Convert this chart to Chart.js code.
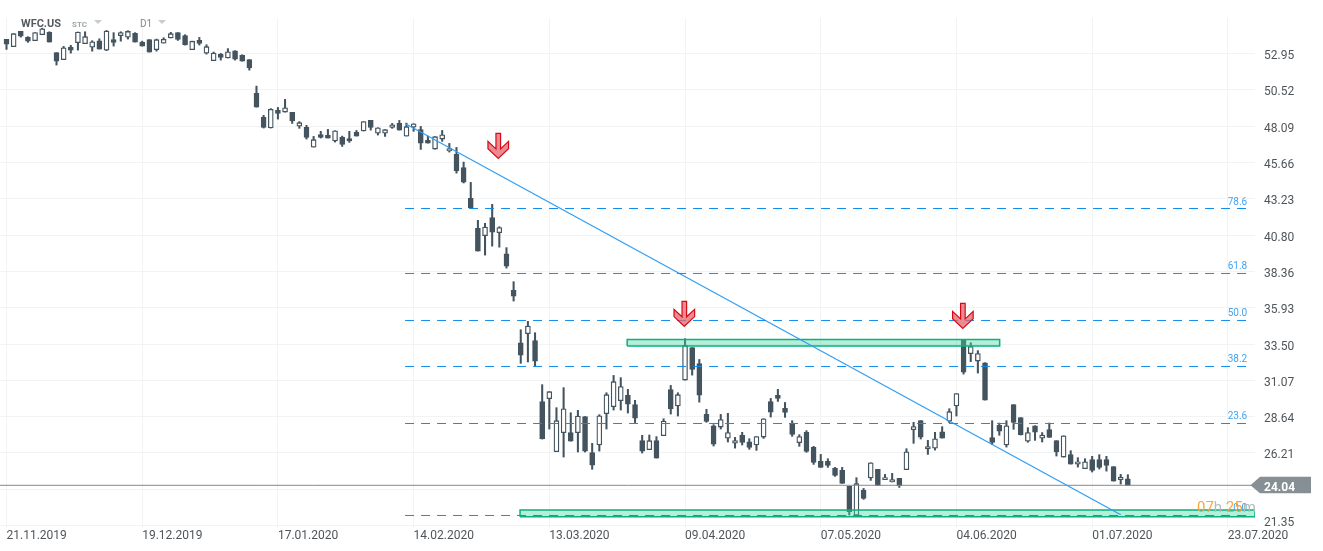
<!DOCTYPE html>
<html>
<head>
<meta charset="utf-8">
<title>WFC.US</title>
<script src="https://cdn.jsdelivr.net/npm/chart.js@4"></script>
<style>
    html, body { margin: 0; padding: 0; background: #fff; }
    canvas { display: block; }
</style>
</head>
<body>
<canvas id="priceChart" width="1323" height="551"></canvas>
<script>
// Daily candles, one entry per session
const opens = [
    53.91,53.42,54.44,54.04,53.82,54.22,54.38,53.02,52.55,53.37,
    53.69,53.62,53.39,53.82,53.19,53.89,54.16,54.06,54.31,53.71,
    53.89,53.22,53.66,54.00,54.36,54.16,53.22,53.84,52.99,52.48,
    52.90,52.66,53.15,52.84,52.55,50.29,48.68,47.97,49.15,49.04,
    49.02,48.10,48.01,46.69,47.54,47.48,47.10,47.34,47.26,47.68,
    47.77,48.48,47.63,47.63,48.01,48.28,47.43,48.03,47.86,47.14,
    46.56,47.23,46.43,46.21,45.33,43.26,41.25,40.76,41.97,40.96,
    39.55,37.10,33.59,34.20,33.73,29.64,29.84,26.29,27.57,27.57,
    27.57,28.64,26.23,26.74,28.84,29.31,29.71,30.06,29.44,27.03,
    26.43,27.03,27.36,30.45,29.35,31.09,33.26,32.19,28.79,28.03,
    27.94,27.20,26.87,27.39,26.96,26.74,27.27,29.64,30.06,29.19,
    28.21,26.90,27.59,26.58,25.64,25.64,25.17,25.04,23.97,22.03,
    23.70,24.53,25.11,24.42,24.26,24.50,25.09,27.77,28.37,26.48,
    26.53,27.63,28.34,29.35,33.75,32.86,32.36,32.25,27.23,28.05,
    26.74,29.44,28.57,27.00,28.03,27.20,27.77,27.03,25.93,26.09,
    25.46,25.15,25.76,25.76,25.76,25.29,24.42,24.48
];
const highs = [
    53.91,54.29,54.44,54.09,54.36,54.66,54.42,53.02,53.44,53.51,
    54.40,54.42,53.82,53.95,54.51,54.36,54.42,54.49,54.36,53.79,
    53.89,53.93,54.02,54.38,54.36,54.22,53.79,54.04,53.55,53.06,
    52.97,53.29,53.15,52.88,52.55,50.78,48.82,49.27,49.35,49.89,
    49.02,48.40,48.15,47.41,47.75,47.88,47.79,47.43,47.75,47.81,
    48.40,48.48,47.99,47.86,48.28,48.48,48.30,48.26,48.08,47.43,
    47.39,47.81,46.94,46.67,45.69,44.33,41.79,41.59,42.86,41.36,
    39.96,37.68,34.46,35.02,34.26,30.78,30.31,29.24,30.58,28.90,
    29.06,28.64,26.85,28.77,30.24,31.40,31.25,30.47,29.73,27.39,
    27.41,27.30,28.50,30.73,30.24,33.86,33.26,32.47,29.13,28.10,
    28.79,28.86,27.25,27.59,27.16,27.30,28.50,29.86,30.47,29.59,
    28.37,27.43,27.70,26.65,26.11,25.82,25.24,25.24,23.97,24.55,
    23.83,25.55,25.11,24.77,24.84,24.50,26.49,28.26,28.37,27.05,
    27.59,27.97,29.17,30.18,33.81,33.59,33.06,32.25,28.37,28.21,
    28.37,29.44,28.57,27.90,28.03,27.57,28.21,27.03,27.36,26.36,
    25.89,25.82,25.98,26.09,25.98,25.29,24.77,24.75
];
const lows = [
    53.24,53.42,54.06,53.71,53.82,54.22,53.73,52.19,52.55,52.99,
    53.19,53.62,53.12,53.26,53.15,53.46,53.79,53.93,53.73,53.46,
    53.06,53.12,53.66,54.00,53.84,53.53,53.22,53.53,52.92,52.48,
    52.52,52.66,52.52,52.45,51.85,49.37,47.97,47.97,48.57,49.04,
    48.28,47.95,47.23,46.69,47.30,47.30,47.03,46.74,47.01,47.43,
    47.77,47.83,47.50,47.41,47.95,47.83,47.43,47.75,46.54,46.96,
    46.56,47.08,46.36,44.95,44.29,42.62,39.73,39.46,40.06,39.99,
    38.59,36.38,32.21,32.30,32.05,27.14,27.81,26.29,25.93,27.00,
    26.27,26.27,25.11,26.33,27.81,29.08,29.08,28.88,28.24,26.20,
    26.43,25.86,27.36,28.81,28.68,31.09,31.42,29.61,28.26,26.67,
    27.81,26.94,26.53,26.74,26.45,26.38,27.18,28.61,29.66,28.59,
    27.32,26.65,26.25,25.44,25.24,25.24,24.64,24.17,22.05,22.03,
    23.10,24.37,24.03,24.42,24.26,23.90,25.09,26.85,27.14,26.11,
    26.40,27.20,28.24,28.68,31.49,32.32,31.56,29.75,26.76,27.39,
    26.60,27.79,27.41,26.92,27.05,26.94,27.25,26.00,25.93,25.46,
    25.26,25.15,24.93,25.13,24.99,24.32,24.12,24.04
];
const closes = [
    53.59,54.29,54.13,53.79,54.36,54.62,53.73,52.45,53.35,53.19,
    54.40,54.09,53.75,53.26,54.46,53.71,54.36,54.44,53.73,53.46,
    53.06,53.89,53.91,54.29,53.91,53.53,53.79,53.64,53.42,52.99,
    52.70,53.08,52.59,52.45,51.99,49.37,48.01,49.22,48.95,49.33,
    48.44,48.33,47.34,47.19,47.34,47.30,47.79,46.88,47.10,47.43,
    48.40,48.01,47.99,47.86,48.19,47.83,48.06,48.26,46.96,46.96,
    47.39,47.52,46.59,45.09,44.35,42.62,39.73,41.34,41.00,41.30,
    38.72,36.71,32.76,34.71,32.36,27.14,30.31,28.37,29.17,27.00,
    28.68,26.33,25.39,28.70,30.11,30.98,30.65,29.48,28.54,26.33,
    27.03,25.86,28.34,29.15,30.11,33.41,31.80,30.08,28.32,26.80,
    28.44,27.57,27.03,26.92,26.58,27.30,28.50,28.94,29.86,28.93,
    27.45,27.30,26.31,25.57,25.24,25.37,24.70,24.17,22.27,24.15,
    23.16,25.55,24.03,24.55,24.42,24.01,26.29,27.97,27.27,26.63,
    27.16,27.20,28.97,30.18,31.62,33.33,32.86,29.75,26.92,27.67,
    28.03,28.26,27.41,27.57,27.60,27.41,27.25,26.27,27.36,25.46,
    25.62,25.62,25.04,25.24,25.37,24.32,24.59,24.04
];

// Axes
const dateLabels = ['21.11.2019','19.12.2019','17.01.2020','14.02.2020','13.03.2020','09.04.2020','07.05.2020','04.06.2020','01.07.2020','23.07.2020'];
const barsPerDateLabel = 19;
const priceTicks = [52.95,50.52,48.09,45.66,43.23,40.80,38.36,35.93,33.50,31.07,28.64,26.21,23.78,21.35];

// Drawings on top of the candles
const lastPrice = 24.04;
const fibNames = ['78.6','61.8','50.0','38.2','23.6','0.0'];
const fibLevels = [42.58,38.23,35.08,32.00,28.18,22.02];
const fibStart = 55.8;
const fibEnd = 173.7;
const trendX = [55.8,156];
const trendY = [48.28,22.07];
const upperZoneX = [86.9,139.05];
const upperZoneY = [33.37,33.81];
const lowerZoneX = [71.9,174.8];
const lowerZoneY = [21.94,22.38];
const arrowX = [68.85,94.9,133.9];
const arrowY = [45.94,34.69,34.55];

const DARK = '#44545f';
const AXIS_TEXT = '#4f5559';
const FONT = 'Roboto';

function zoneDataset(xs, ys) {
    return {
        type: 'line',
        order: 3,
        data: [
            { x: xs[0], y: ys[0] }, { x: xs[1], y: ys[0] }, { x: xs[1], y: ys[1] },
            { x: xs[0], y: ys[1] }, { x: xs[0], y: ys[0] }
        ],
        borderColor: '#08b27c',
        borderWidth: 1.5,
        backgroundColor: 'rgba(70,214,160,0.4)',
        fill: 'shape',
        pointRadius: 0,
        tension: 0
    };
}

const fibDatasets = fibLevels.map(level => ({
    type: 'line',
    order: 1,
    data: [{ x: fibStart, y: level }, { x: fibEnd, y: level }],
    borderColor: '#0d8df0',
    borderWidth: 1,
    borderDash: [9, 7],
    pointRadius: 0
}));

// Everything that is text or a shape rather than a series
const annotations = {
    id: 'annotations',
    afterDatasetsDraw(chart) {
        const { ctx, scales: { x, y } } = chart;
        ctx.save();

        // red arrows, anchored at their tip
        arrowX.forEach((ax, i) => {
            const px = x.getPixelForValue(ax);
            const py = y.getPixelForValue(arrowY[i]);
            const shape = [[0,0],[10.3,-9.7],[10.3,-17],[2.3,-9.5],[2.3,-25],[-2.3,-25],[-2.3,-9.5],[-10.3,-17],[-10.3,-9.7]];
            ctx.beginPath();
            shape.forEach((p, k) => {
                if (k === 0) ctx.moveTo(px + p[0], py + p[1]);
                else ctx.lineTo(px + p[0], py + p[1]);
            });
            ctx.closePath();
            ctx.fillStyle = 'rgba(228,100,108,0.75)';
            ctx.fill();
            ctx.strokeStyle = '#d60a14';
            ctx.lineWidth = 1.2;
            ctx.stroke();
        });

        // fibonacci level names
        ctx.textBaseline = 'middle';
        ctx.textAlign = 'right';
        ctx.font = '10px ' + FONT;
        ctx.fillStyle = '#45a3ee';
        fibLevels.forEach((level, i) => {
            ctx.fillText(fibNames[i], x.getPixelForValue(fibEnd), y.getPixelForValue(level) - 6.5);
        });

        // countdown to the next candle
        ctx.textAlign = 'left';
        ctx.font = '15px ' + FONT;
        const parts = [['07', '#f6a63c'], ['h', '#b4babd'], [' ', '#fff'], ['25', '#f6a63c'], ['m', '#b4babd']];
        let cx = 1197;
        parts.forEach(part => {
            ctx.fillStyle = part[1];
            ctx.fillText(part[0], cx, 508);
            cx += ctx.measureText(part[0]).width;
        });

        // last price tag
        const tagY = y.getPixelForValue(lastPrice);
        ctx.fillStyle = '#868f93';
        ctx.beginPath();
        ctx.moveTo(1250.5, tagY);
        ctx.lineTo(1260, tagY - 8.5);
        ctx.lineTo(1311, tagY - 8.5);
        ctx.lineTo(1311, tagY + 8);
        ctx.lineTo(1260, tagY + 8);
        ctx.closePath();
        ctx.fill();
        ctx.fillStyle = '#fff';
        ctx.font = 'bold 12px ' + FONT;
        ctx.fillText(lastPrice.toFixed(2), 1264, tagY + 2.5);

        // lowest price label sits a little above its gridline
        ctx.fillStyle = AXIS_TEXT;
        ctx.font = '12px ' + FONT;
        ctx.fillText('21.35', 1264, y.getPixelForValue(21.35) - 2.5);

        // instrument header
        ctx.fillStyle = '#555b60';
        ctx.font = 'bold 11px ' + FONT;
        ctx.fillText('WFC.US', 21, 24.5);
        ctx.fillStyle = '#9aa5aa';
        ctx.font = 'bold 8px ' + FONT;
        ctx.fillText('STC', 72, 24.5);
        ctx.fillStyle = '#7f8b91';
        ctx.font = '10px ' + FONT;
        ctx.fillText('D1', 140, 24.5);
        ctx.fillStyle = '#c9cccd';
        [94, 158].forEach(tx => {
            ctx.beginPath();
            ctx.moveTo(tx, 20);
            ctx.lineTo(tx + 8, 20);
            ctx.lineTo(tx + 4, 24);
            ctx.closePath();
            ctx.fill();
        });
        ctx.restore();
    }
};

new Chart(document.getElementById('priceChart').getContext('2d'), {
    type: 'bar',
    plugins: [annotations],
    data: {
        datasets: [
            {
                label: 'wick',
                order: 5,
                grouped: false,
                barThickness: 1.4,
                backgroundColor: DARK,
                data: highs.map((h, i) => ({ x: i, y: [lows[i], h] }))
            },
            {
                label: 'body',
                order: 4,
                grouped: false,
                barThickness: 5,
                borderWidth: 1.3,
                borderSkipped: false,
                borderColor: DARK,
                backgroundColor: c => closes[c.dataIndex] > opens[c.dataIndex] ? '#fff' : DARK,
                data: opens.map((o, i) => ({ x: i, y: [o, closes[i]] }))
            },
            zoneDataset(upperZoneX, upperZoneY),
            zoneDataset(lowerZoneX, lowerZoneY),
            {
                type: 'line',
                order: 2,
                data: [{ x: trendX[0], y: trendY[0] }, { x: trendX[1], y: trendY[1] }],
                borderColor: '#2f9df4',
                borderWidth: 1.2,
                pointRadius: 0
            },
            {
                type: 'line',
                order: 2,
                data: [{ x: -0.91, y: lastPrice }, { x: 174.8, y: lastPrice }],
                borderColor: '#808a8e',
                borderWidth: 1,
                pointRadius: 0
            },
            ...fibDatasets
        ]
    },
    options: {
        responsive: false,
        animation: false,
        layout: { padding: { left: 0, top: 18, right: 0, bottom: 0 } },
        plugins: { legend: { display: false }, tooltip: { enabled: false } },
        scales: {
            x: {
                type: 'linear',
                offset: false,
                min: -0.91,
                max: 174.8,
                afterBuildTicks: scale => {
                    scale.ticks = dateLabels.map((d, i) => ({ value: i * barsPerDateLabel }));
                },
                afterFit: scale => { scale.height = 23; },
                border: { display: false },
                grid: { offset: false, color: '#f2f3f4', lineWidth: 1, drawTicks: false },
                ticks: {
                    align: 'start',
                    autoSkip: false,
                    maxRotation: 0,
                    padding: 1,
                    color: AXIS_TEXT,
                    font: { family: FONT, size: 12 },
                    callback: value => dateLabels[value / barsPerDateLabel]
                }
            },
            y: {
                position: 'right',
                min: 21.18,
                max: 55.341,
                afterBuildTicks: scale => {
                    scale.ticks = priceTicks.map(v => ({ value: v }));
                },
                afterFit: scale => { scale.width = 68; },
                border: { display: false },
                grid: { color: '#f2f3f4', lineWidth: 1, drawTicks: false },
                ticks: {
                    autoSkip: false,
                    padding: 9,
                    labelOffset: 2.5,
                    color: AXIS_TEXT,
                    font: { family: FONT, size: 12 },
                    // 23.78 is covered by the price tag, 21.35 is placed by hand
                    callback: value => (value === 23.78 || value === 21.35) ? '' : value.toFixed(2)
                }
            }
        }
    }
});
</script>
</body>
</html>
